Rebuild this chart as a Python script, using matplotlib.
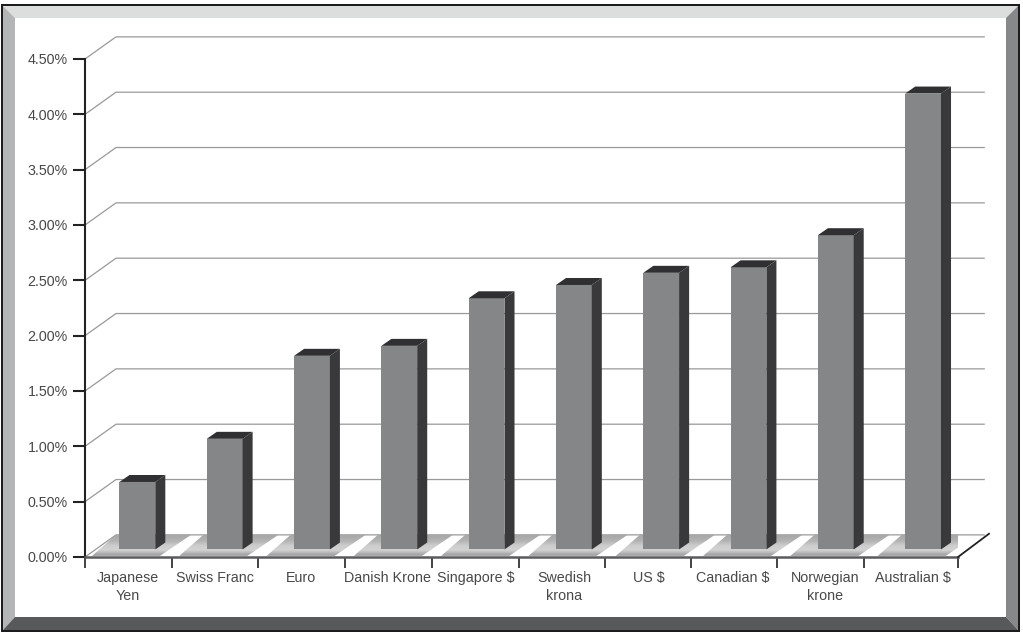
import numpy as np
from matplotlib import pyplot as plt
from matplotlib.patches import Polygon

plt.rcParams['font.family'] = ['Liberation Sans', 'DejaVu Sans']

W, H = 1023, 635

categories = ['Japanese\nYen', 'Swiss Franc', 'Euro', 'Danish Krone', 'Singapore $',
              'Swedish\nkrona', 'US $', 'Canadian $', 'Norwegian\nkrone', 'Australian $']
values = [0.61, 1.00, 1.75, 1.84, 2.27, 2.39, 2.50, 2.55, 2.84, 4.12]
y_ticks = [0, 0.5, 1, 1.5, 2, 2.5, 3, 3.5, 4, 4.5]
y_labels = ['0.00%', '0.50%', '1.00%', '1.50%', '2.00%', '2.50%', '3.00%', '3.50%', '4.00%', '4.50%']

# the ticks and labels in the original drift a bit from the bars
x_ticks = [0, 0.995, 1.985, 2.98, 3.97, 4.97, 5.96, 6.94, 7.93, 8.925, 10]
label_pos = [0.49, 1.49, 2.47, 3.47, 4.48, 5.49, 6.46, 7.42, 8.48, 9.48]

# depth of the fake 3d box and of the bars, in data units
depth_x, depth_y = 0.355, 0.2
bar_dx, bar_dy = 0.115, 0.063
bar_left, bar_w, bar_bottom = 0.395, 0.41, 0.068

fig = plt.figure(figsize=(W / 100, H / 100), dpi=100, facecolor='white')


def px(x, y):
    return (x / W, 1 - y / H)


def frame(points, color):
    fig.add_artist(Polygon([px(*p) for p in points], closed=True, facecolor=color,
                           edgecolor='none', transform=fig.transFigure, zorder=-1))


# bevelled picture frame
frame([(1, 4), (1020, 4), (1020, 632), (1, 632)], '#1c1c1e')
frame([(3, 6), (1018, 6), (1018, 630), (3, 630)], 'white')
frame([(3, 6), (1018, 6), (1006, 18), (15, 18)], '#dcdddd')
frame([(3, 6), (15, 18), (15, 617), (3, 630)], '#b4b5b6')
frame([(1018, 6), (1006, 18), (1006, 617), (1018, 630)], '#87888a')
frame([(3, 630), (15, 617), (1006, 617), (1018, 630)], '#58595b')

ax = fig.add_axes([85 / W, 1 - 557 / H, 873 / W, 498 / H])
ax.patch.set_alpha(0)
ax.set_xlim(0, 10)
ax.set_ylim(0, 4.5)

for s in ['top', 'right']:
    ax.spines[s].set_visible(False)
ax.spines['left'].set_color('#222222')
ax.spines['left'].set_linewidth(1.5)
ax.spines['bottom'].set_color('#5a5a5d')
ax.spines['bottom'].set_linewidth(1.8)

ax.set_yticks(y_ticks)
ax.set_yticklabels(y_labels, fontsize=10.3, color='#48484a')
ax.tick_params(axis='y', length=8.5, width=1.5, color='#222222', pad=4)

ax.set_xticks(x_ticks)
ax.set_xticklabels([])
ax.set_xticks(label_pos, minor=True)
ax.set_xticklabels(categories, minor=True, fontsize=10.3, color='#48484a', linespacing=1.4)
ax.tick_params(axis='x', which='major', length=8, width=1.2, color='#222222')
ax.tick_params(axis='x', which='minor', length=0, pad=10)

# gridlines run up the side wall then along the back wall
for v in y_ticks:
    ax.plot([0, depth_x, 10.3], [v, v + depth_y, v + depth_y], color='#98999b', lw=0.9,
            clip_on=False, zorder=1)

# floor shadows, grey at the back and front and lighter in between
grad = np.array([[0.66], [0.70], [0.80], [0.82], [0.64]])
for i in range(10):
    quad = Polygon([(i + 0.08, 0.01), (i + 0.86, 0.01), (i + 0.86 + depth_x, depth_y),
                    (i + depth_x, depth_y)], closed=True, transform=ax.transData,
                   facecolor='none', edgecolor='none')
    ax.add_patch(quad)
    im = ax.imshow(grad, extent=(i, i + 1.3, 0, depth_y), origin='upper', aspect='auto',
                   cmap='gray', vmin=0, vmax=1, zorder=2, interpolation='bilinear')
    im.set_clip_path(quad)
ax.set_xlim(0, 10)
ax.set_ylim(0, 4.5)

# right hand edge of the floor
ax.plot([10, 10 + depth_x], [0, depth_y + 0.01], color='#222222', lw=1.3, clip_on=False, zorder=3)

# bars: front face from ax.bar, sides and caps as polygons
x_left = np.arange(10) + bar_left
ax.bar(x_left, values, width=bar_w, bottom=bar_bottom, align='edge', color='#858688', zorder=4)
for x, v in zip(x_left, values):
    top = bar_bottom + v
    r = x + bar_w
    ax.add_patch(Polygon([(r, bar_bottom), (r + bar_dx, bar_bottom + bar_dy),
                          (r + bar_dx, top + bar_dy), (r, top)], closed=True,
                         facecolor='#39393b', edgecolor='none', zorder=4, clip_on=False))
    ax.add_patch(Polygon([(x, top), (x + bar_dx, top + bar_dy), (r + bar_dx, top + bar_dy),
                          (r, top)], closed=True, facecolor='#303032', edgecolor='none',
                         zorder=4, clip_on=False))

fig.savefig('out.png', dpi=100)
